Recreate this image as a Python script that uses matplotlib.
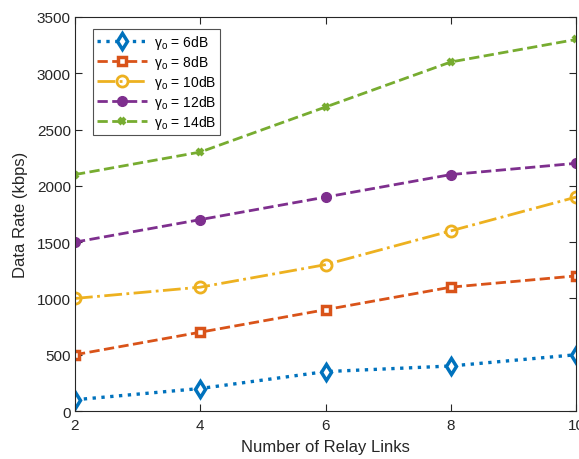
import numpy as np
import matplotlib.pyplot as plt

plt.rcParams['font.family'] = ['Liberation Sans', 'DejaVu Sans']

links = [2, 4, 6, 8, 10]
rate_6db = [100, 200, 350, 400, 500]
rate_8db = [500, 700, 900, 1100, 1200]
rate_10db = [1000, 1100, 1300, 1600, 1900]
rate_12db = [1500, 1700, 1900, 2100, 2200]
rate_14db = [2100, 2300, 2700, 3100, 3300]
labels = [r'$\mathregular{\gamma_o}$ = 6dB', r'$\mathregular{\gamma_o}$ = 8dB',
          r'$\mathregular{\gamma_o}$ = 10dB', r'$\mathregular{\gamma_o}$ = 12dB',
          r'$\mathregular{\gamma_o}$ = 14dB']

fig = plt.figure(figsize=(5.79, 4.60), dpi=100)
ax = fig.add_axes([0.1295, 0.1043, 0.8655, 0.8567])

ax.plot(links, rate_6db, ':', color='#0072BD', lw=2.4, marker='d', ms=8,
        mfc='white', mew=2.5, label=labels[0])
ax.plot(links, rate_8db, '--', color='#D95319', lw=2, marker='s', ms=6,
        mfc='white', mew=2.5, label=labels[1])
ax.plot(links, rate_10db, '-.', color='#EDB120', lw=2, marker='o', ms=8,
        mfc='none', mew=2, label=labels[2])
ax.plot(links, rate_12db, '--', color='#7E2F8E', lw=2, marker='o', ms=7,
        label=labels[3])
ax.plot(links, rate_14db, '--', color='#77AC30', lw=2, marker='x', ms=5,
        mew=3, label=labels[4])

ax.set_xlim(2, 10)
ax.set_ylim(0, 3500)
ax.set_xticks([2, 4, 6, 8, 10])
ax.set_yticks(np.arange(0, 3501, 500))
ax.tick_params(direction='in', top=True, right=True, colors='#262626',
               labelsize=11, length=5)
ax.tick_params(axis='x', pad=5)
ax.tick_params(axis='y', pad=3)
for s in ax.spines.values():
    s.set_color('#262626')
    s.set_linewidth(0.8)
ax.set_xlabel('Number of Relay Links', fontsize=12, color='#262626', labelpad=5)
ax.set_ylabel('Data Rate (kbps)', fontsize=12, color='#262626', labelpad=6)

leg = ax.legend(loc='upper left', bbox_to_anchor=(0.035, 0.97), fontsize=10,
                fancybox=False, edgecolor='#262626', handlelength=3.6,
                borderpad=0.3, labelspacing=0.15, handletextpad=0.5,
                borderaxespad=0)
leg.get_frame().set_linewidth(0.8)

fig.savefig('out.png', dpi=100)
